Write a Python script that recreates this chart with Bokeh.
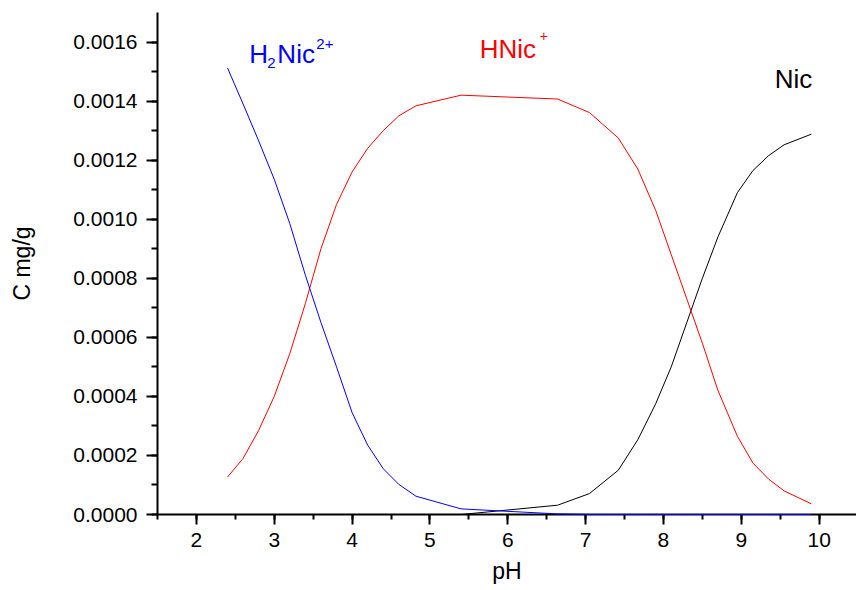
from bokeh.plotting import figure
from bokeh.models import SingleIntervalTicker, PrintfTickFormatter, Label
from bokeh.embed import file_html
from bokeh.resources import INLINE

# pH values (x) and concentrations (C mg/g) of the three species
ph = [2.4, 2.6, 2.8, 3.0, 3.2, 3.4, 3.6, 3.8, 4.0, 4.2, 4.4, 4.6, 4.82, 5.4,
      6.64, 7.05, 7.42, 7.67, 7.9, 8.1, 8.3, 8.5, 8.7, 8.95, 9.15, 9.35, 9.55, 9.9]
h2nic = [0.001512, 0.00139, 0.001265, 0.001135, 0.000985, 0.00081, 0.00065,
         0.0005, 0.000345, 0.000235, 0.000155, 0.000102, 0.000062, 0.000019,
         0.000002, 0, 0, 0, 0, 0, 0, 0, 0, 0, 0, 0, 0, 0]
hnic = [0.000127, 0.00019, 0.000285, 0.0004, 0.000545, 0.000715, 0.0009,
        0.00105, 0.00116, 0.00124, 0.0013, 0.00135, 0.001384, 0.00142,
        0.001407, 0.001361, 0.001275, 0.00117, 0.00103, 0.00088, 0.00073,
        0.00058, 0.00042, 0.000265, 0.000174, 0.00012, 0.00008, 0.000036]
nic = [0, 0, 0, 0, 0, 0, 0, 0, 0, 0, 0, 0, 0, 0,
       0.0000315, 0.000071, 0.00015, 0.000253, 0.000375, 0.0005, 0.00065,
       0.0008, 0.00094, 0.00109, 0.001165, 0.001215, 0.001252, 0.001288]

FONT = "Liberation Sans"

p = figure(width=856, height=590, x_range=(1.5, 10.48), y_range=(0, 0.0017),
           output_backend="svg", toolbar_location=None,
           min_border_left=157, min_border_right=0, min_border_top=12,
           min_border_bottom=76)
p.outline_line_color = None
p.grid.visible = False
p.background_fill_color = "white"
p.border_fill_color = "white"

p.xaxis.ticker = SingleIntervalTicker(interval=1, num_minor_ticks=2)
p.yaxis.ticker = SingleIntervalTicker(interval=0.0002, num_minor_ticks=2)
p.yaxis.formatter = PrintfTickFormatter(format="%.4f")

p.xaxis.axis_label = "pH"
p.yaxis.axis_label = "C mg/g"

for ax in (p.xaxis[0], p.yaxis[0]):
    ax.axis_line_width = 2
    ax.axis_line_color = "black"
    ax.major_tick_line_width = 2
    ax.minor_tick_line_width = 2
    ax.major_tick_line_color = "black"
    ax.minor_tick_line_color = "black"
    ax.major_tick_in = 0
    ax.minor_tick_in = 0
    ax.major_label_text_font = FONT
    ax.major_label_text_font_size = "21px"
    ax.major_label_text_color = "black"
    ax.axis_label_text_font = FONT
    ax.axis_label_text_font_size = "23px"
    ax.axis_label_text_font_style = "normal"
    ax.axis_label_text_color = "black"

p.xaxis.major_tick_out = 10
p.xaxis.minor_tick_out = 5
p.xaxis.major_label_standoff = 8
p.xaxis.axis_label_standoff = 8
p.yaxis.major_tick_out = 11
p.yaxis.minor_tick_out = 6
p.yaxis.major_label_standoff = 9
p.yaxis.axis_label_standoff = 35

p.line(ph, nic, line_color="black", line_width=1, level="overlay")
p.line(ph, hnic, line_color="#ff0000", line_width=1, level="overlay")
p.line(ph, h2nic, line_color="#0000ff", line_width=1, level="overlay")

LIFT = 10


def put(text, x, y, color, size, dx=0, dy=0):
    p.add_layout(Label(x=x, y=y, text=text, x_offset=dx, y_offset=dy + LIFT,
                       text_color=color, text_font=FONT, text_font_size=size,
                       text_align="left", text_baseline="alphabetic"))


# H2Nic2+
put("H", 2.68, 0.001527, "#0000ff", "26px")
put("2", 2.68, 0.001527, "#0000ff", "15px", dx=18, dy=-9.5)
put("Nic", 2.68, 0.001527, "#0000ff", "26px", dx=28)
put("2+", 2.68, 0.001527, "#0000ff", "15px", dx=67, dy=9.5)
# HNic+
put("HNic", 5.64, 0.001541, "#ff0000", "26px")
put("+", 5.64, 0.001541, "#ff0000", "14px", dx=60, dy=13)
# Nic
put("Nic", 9.43, 0.00144, "black", "26px")

open("out.html", "w").write(file_html(p, INLINE))
